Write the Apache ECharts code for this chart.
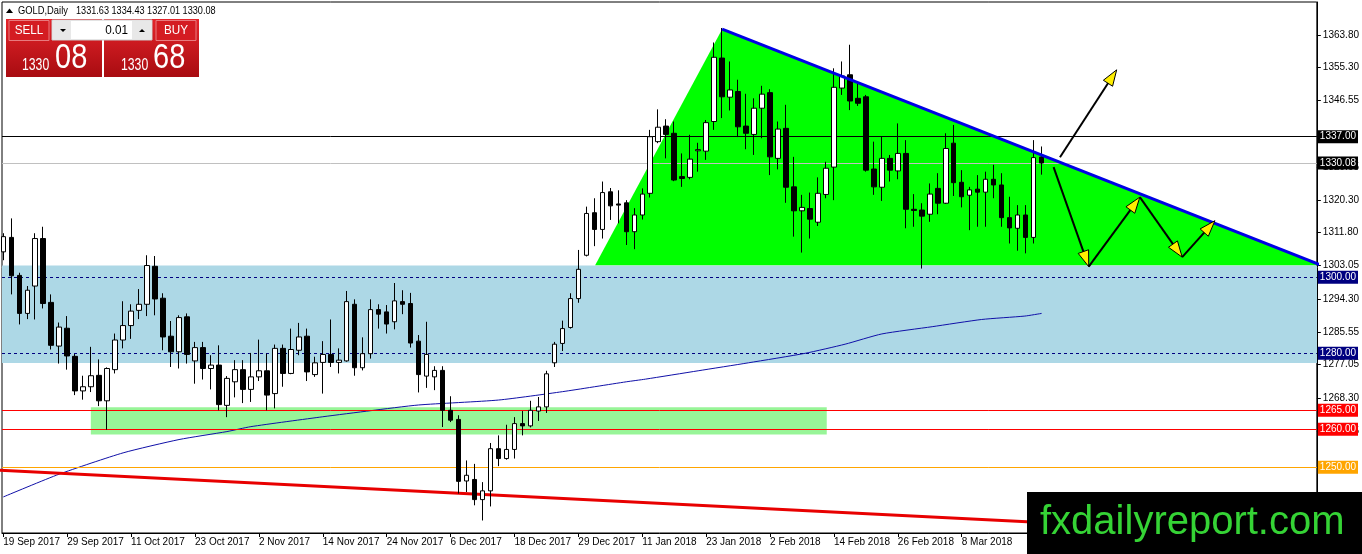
<!DOCTYPE html>
<html><head><meta charset="utf-8">
<script src="https://cdn.jsdelivr.net/npm/echarts@6/dist/echarts.min.js"></script>
<style>html,body{margin:0;padding:0;background:#fff}#c{width:1362px;height:554px}</style>
</head><body><div id="c"></div>
<script>
// ---- data ----
const dateTicks = ['19 Sep 2017','29 Sep 2017','11 Oct 2017','23 Oct 2017','2 Nov 2017','14 Nov 2017','24 Nov 2017','6 Dec 2017','18 Dec 2017','29 Dec 2017','11 Jan 2018','23 Jan 2018','2 Feb 2018','14 Feb 2018','26 Feb 2018','8 Mar 2018'];
const dateTickBars = [0,8,16,24,32,40,48,56,64,72,80,88,96,104,112,120];
const priceTicks = [1363.80,1355.30,1346.55,1329.05,1320.30,1311.80,1303.05,1294.30,1285.55,1277.05,1268.30,1259.55,1242.05];

const open = [1306.7,1310.5,1300.5,1290.5,1297.7,1310.2,1293.4,1281.9,1286.6,1279.2,
1270.1,1271.2,1274.2,1267.5,1275.7,1283.5,1287.3,1291.3,1292.9,1302.9,
1294.5,1284.5,1280.4,1289.6,1278.0,1281.5,1276.0,1276.9,1266.3,1272.5,
1275.7,1270.5,1273.8,1275.4,1269.4,1281.3,1274.7,1280.8,1284.5,1274.4,
1277.6,1279.7,1277.6,1278.0,1292.9,1276.2,1279.9,1291.5,1290.9,1288.3,
1293.6,1293.1,1283.2,1274.0,1273.8,1275.5,1265.0,1262.6,1246.4,1246.8,
1241.5,1243.8,1254.9,1252.3,1254.7,1261.5,1260.9,1264.8,1265.9,1277.5,
1282.6,1286.8,1294.4,1305.8,1317.0,1312.6,1322.5,1319.3,1319.6,1312.0,
1316.4,1322.1,1335.7,1339.8,1337.9,1326.5,1326.3,1333.3,1333.2,1341.0,
1357.7,1347.4,1348.9,1339.8,1337.6,1344.5,1348.6,1331.3,1339.2,1323.8,
1317.5,1318.1,1314.5,1321.8,1329.0,1349.8,1353.3,1347.1,1347.5,1328.5,
1323.7,1331.3,1328.0,1332.6,1317.9,1317.7,1316.6,1323.4,1319.5,1335.3,
1325.0,1321.6,1323.2,1322.4,1325.8,1324.3,1315.7,1312.9,1316.4,1310.5,
1331.63];
const close = [1310.7,1300.4,1290.5,1296.6,1310.2,1293.1,1282.1,1286.9,1279.3,1270.1,
1271.2,1274.1,1267.5,1276.0,1283.5,1287.3,1291.1,1292.9,1303.1,1294.3,
1284.3,1280.4,1289.4,1279.7,1281.5,1276.0,1276.9,1266.5,1273.4,1275.7,
1270.5,1273.8,1275.4,1269.0,1281.3,1274.7,1281.0,1284.3,1275.1,1277.5,
1279.7,1277.6,1278.2,1293.6,1276.2,1279.9,1291.5,1290.3,1287.7,1293.8,
1292.9,1282.7,1274.4,1279.7,1275.5,1265.0,1262.4,1246.3,1247.9,1241.5,
1243.8,1254.9,1252.3,1254.7,1261.5,1260.9,1265.0,1265.9,1274.6,1282.4,
1286.5,1294.4,1302.1,1316.8,1312.6,1322.3,1318.8,1319.0,1312.0,1316.4,
1321.9,1337.0,1339.5,1337.6,1325.6,1326.0,1331.1,1333.6,1340.7,1357.9,
1347.5,1349.3,1339.6,1337.9,1344.5,1348.2,1331.7,1339.0,1323.7,1317.5,
1318.4,1315.3,1322.1,1328.7,1350.0,1353.0,1346.4,1345.8,1328.2,1323.8,
1331.3,1328.2,1332.6,1317.9,1317.6,1316.1,1321.9,1319.5,1333.9,1324.9,
1321.2,1323.0,1322.4,1325.8,1324.3,1315.7,1313.0,1316.4,1310.5,1331.5,
1330.08];
const high = [1311.6,1315.5,1301.2,1297.7,1311.6,1313.3,1295.5,1288.1,1289.8,1279.8,
1274.1,1281.7,1278.4,1276.3,1285.2,1293.7,1292.9,1296.9,1305.8,1305.6,
1295.8,1288.5,1290.0,1290.5,1283.0,1283.0,1279.5,1282.1,1274.0,1278.2,
1278.2,1280.1,1283.6,1279.9,1282.3,1282.3,1286.5,1288.0,1286.5,1279.1,
1283.2,1288.9,1281.3,1296.4,1294.2,1284.2,1294.2,1292.9,1292.7,1298.5,
1296.6,1295.9,1284.8,1288.3,1276.6,1276.6,1268.7,1263.7,1251.8,1250.9,
1246.1,1256.4,1258.4,1261.2,1263.2,1264.8,1267.5,1268.5,1275.4,1283.0,
1288.6,1295.8,1307.2,1318.6,1320.8,1325.2,1323.5,1322.9,1320.3,1318.2,
1323.4,1338.8,1344.2,1341.6,1341.0,1332.6,1337.5,1335.4,1341.4,1361.8,
1365.6,1356.8,1352.0,1348.3,1347.1,1350.4,1349.5,1341.0,1345.4,1331.7,
1321.7,1322.3,1326.3,1330.4,1355.0,1356.8,1361.2,1351.1,1348.0,1335.7,
1337.0,1332.2,1340.5,1336.1,1321.9,1319.5,1324.7,1327.4,1337.9,1340.1,
1328.2,1323.8,1326.9,1327.8,1329.6,1327.4,1321.2,1319.0,1319.0,1336.1,
1334.43];
const low = [1304.5,1295.5,1287.6,1289.0,1288.9,1291.8,1281.0,1277.3,1275.7,1269.0,
1267.8,1269.8,1266.1,1259.9,1274.7,1281.3,1283.8,1289.0,1289.8,1290.0,
1280.8,1276.4,1276.0,1277.3,1272.0,1273.1,1270.5,1265.0,1263.2,1268.4,
1266.9,1267.2,1272.7,1265.0,1265.5,1271.2,1274.5,1279.5,1272.7,1273.8,
1269.4,1276.4,1274.7,1277.8,1274.1,1275.5,1278.6,1286.5,1285.2,1286.3,
1290.3,1281.5,1269.7,1270.9,1270.3,1260.6,1261.9,1243.1,1243.5,1240.0,
1236.0,1239.7,1250.3,1252.0,1252.3,1258.4,1260.5,1262.2,1264.3,1276.4,
1280.6,1286.5,1293.3,1305.5,1308.2,1310.2,1315.1,1314.2,1308.5,1307.4,
1315.2,1321.0,1335.3,1331.3,1325.3,1323.8,1325.8,1327.8,1330.9,1338.8,
1341.9,1343.9,1336.9,1333.7,1332.2,1336.6,1326.9,1328.4,1319.6,1310.7,
1306.5,1310.2,1313.5,1320.8,1320.3,1348.0,1344.0,1345.1,1327.8,1321.7,
1320.1,1325.2,1325.8,1312.9,1313.3,1302.3,1314.6,1316.6,1319.3,1321.4,
1318.4,1312.4,1313.3,1313.3,1320.8,1313.3,1308.9,1307.0,1306.3,1308.9,
1327.01];

// moving average line, read at sampled bars: [bar, price]
const maPoints = [[0,1242.2],[7,1248.2],[15,1253.8],[22,1257.3],[28,1259.4],[31,1260.7],[40,1263.3],[46,1264.9],[52,1266.4],[62,1267.7],[70,1269.9],[78,1272.5],[80.4,1273.2],[87,1275.4],[93.3,1277.5],[100.4,1280.0],[105.4,1282.4],[110,1285.1],[116.3,1287.0],[122.5,1288.9],[127.9,1289.8],[130,1290.5]];

// horizontal price levels
const levels = [1337.00, 1330.08, 1300.00, 1280.00, 1265.00, 1260.00, 1250.00];
const levelColors = ['#000000','#c0c0c0','#000080','#000080','#ff0000','#ff0000','#ffa500'];
const levelBoxes  = ['#000000','#000000','#000080','#000080','#ff0000','#ff0000','#ffa500'];
const levelDashed = [false,false,true,true,false,false,false];

// zones [bar1, price1, bar2, price2]
const blueZone = [-2, 1303.1, 170, 1277.45];
const greenZone = [10.96, 1265.8, 103.1, 1258.6];
// triangle vertices [bar, price]
const triangle = [[90,1365.3],[74.1,1303.2],[165,1303.2]];
// trend lines
const redTrend = [[-1,1249.3],[150,1233.4]];
const blueTrend = [[90,1365.3],[165,1303.2]];
// arrows [barFrom, priceFrom, barTo, priceTo]
const arrows = [[132.3,1331.6,139.4,1354.6],[131.5,1329.0,135.9,1302.8],[135.9,1302.8,142.3,1321.1],[142.3,1321.1,147.6,1305.3],[147.6,1305.3,151.7,1314.9]];

const header = {symbol:'GOLD,Daily', ohlc:[1331.63,1334.43,1327.01,1330.08]};
const bidAsk = {sellBig:'1330', sellSmall:'08', buyBig:'1330', buySmall:'68', lot:'0.01'};

// ---- chart ----
const FONT = '"Liberation Sans",Arial,sans-serif';
const chart = echarts.init(document.getElementById('c'), null, {renderer:'canvas'});
const candles = open.map((o,i)=>[i,o,close[i],low[i],high[i]]);

const markData = levels.map((v,i)=>({
  yAxis: v,
  lineStyle:{color:levelColors[i], type: levelDashed[i]?[3,3]:'solid', width:1},
  label:{backgroundColor:levelBoxes[i]}
}));

const redGrad = new echarts.graphic.LinearGradient(0,0,0,1,[{offset:0,color:'#e4242a'},{offset:1,color:'#a80c11'}]);
const txt = (x,y,text,size,fill,align,sx)=>({type:'text',z:101,x:x,y:y,scaleX:sx||1,
  style:{x:0,y:0,text:text,font:size+'px '+FONT,fill:fill,align:align||'left',verticalAlign:'top'}});

chart.setOption({
  animation:false,
  grid:{left:2,right:43,top:2,bottom:21,show:true,borderColor:'#000',borderWidth:1,backgroundColor:'#fff'},
  xAxis:{type:'value',min:-0.1625,max:164.4625,
    axisLine:{show:true,onZero:false,lineStyle:{color:'#000'}},
    axisTick:{show:true,length:4,customValues:dateTickBars,lineStyle:{color:'#000'}},
    axisLabel:{customValues:dateTickBars,formatter:(v)=>dateTicks[dateTickBars.indexOf(Math.round(v))]||'',align:'left',margin:4,color:'#000',fontSize:10,fontFamily:FONT},
    splitLine:{show:false}},
  yAxis:{type:'value',position:'right',min:1232.71,max:1372.45,
    axisLine:{show:true,onZero:false,lineStyle:{color:'#000'}},
    axisTick:{show:true,length:4,customValues:priceTicks,lineStyle:{color:'#000'}},
    axisLabel:{customValues:priceTicks,formatter:(v)=>v.toFixed(2),margin:6,color:'#000',fontSize:10,fontFamily:FONT},
    splitLine:{show:false}},
  series:[
    {type:'custom',name:'zones',z:1,clip:true,silent:true,
      data:[blueZone.concat([0]),greenZone.concat([1])],
      renderItem:(params,api)=>{
        const a=api.coord([api.value(0),api.value(1)]), b=api.coord([api.value(2),api.value(3)]);
        return {type:'rect',shape:{x:a[0],y:a[1],width:b[0]-a[0],height:b[1]-a[1]},style:{fill:api.value(4)===0?'#add8e6':'#98f598'}};
      }},
    {type:'custom',name:'triangle',z:2,clip:true,silent:true,
      data:[[triangle[0][0],triangle[0][1],triangle[1][0],triangle[1][1],triangle[2][0],triangle[2][1]]],
      renderItem:(params,api)=>{
        const pts=[0,2,4].map(k=>api.coord([api.value(k),api.value(k+1)]));
        return {type:'polygon',shape:{points:pts},style:{fill:'#00ff00'}};
      }},
    {type:'line',name:'MA',z:3,data:maPoints,showSymbol:false,smooth:0.2,lineStyle:{color:'#1010a8',width:1},silent:true,
      markLine:{silent:true,symbol:['none','none'],animation:false,
        label:{show:true,position:'end',distance:1,color:'#fff',fontSize:10,fontFamily:FONT,padding:[2,2,1,2],formatter:(p)=>Number(p.value).toFixed(2)},
        data:markData}},
    {type:'line',name:'redTrend',z:3,data:redTrend,showSymbol:false,lineStyle:{color:'#e80000',width:3},silent:true},
    {type:'candlestick',name:'GOLD',z:5,data:candles,barWidth:5,silent:true,
      itemStyle:{color:'#ffffff',color0:'#000000',borderColor:'#000000',borderColor0:'#000000',borderWidth:1}},
    {type:'line',name:'blueTrend',z:6,data:blueTrend,showSymbol:false,lineStyle:{color:'#0000e6',width:3},silent:true},
    {type:'custom',name:'arrows',z:7,clip:false,silent:true,data:arrows,
      renderItem:(params,api)=>{
        const a=api.coord([api.value(0),api.value(1)]), b=api.coord([api.value(2),api.value(3)]);
        const dx=b[0]-a[0], dy=b[1]-a[1], len=Math.hypot(dx,dy), ux=dx/len, uy=dy/len;
        const L=16, W=5.5;
        const base=[b[0]-ux*L,b[1]-uy*L];
        const p1=[base[0]-uy*W,base[1]+ux*W], p2=[base[0]+uy*W,base[1]-ux*W];
        return {type:'group',children:[
          {type:'line',shape:{x1:a[0],y1:a[1],x2:b[0]-ux*4,y2:b[1]-uy*4},style:{stroke:'#000',lineWidth:2}},
          {type:'polygon',shape:{points:[b,p1,p2]},style:{fill:'#ffee00',stroke:'#000',lineWidth:1}}
        ]};
      }}
  ],
  graphic:[
    // header
    {type:'polygon',z:101,shape:{points:[[6,13],[9.5,8.5],[13,13]]},style:{fill:'#000'}},
    txt(18,5,header.symbol,11,'#000','left',0.85),
    txt(76,5,header.ohlc.map(v=>v.toFixed(2)).join(' '),11,'#000','left',0.83),
    // one-click panel
    {type:'rect',z:100,shape:{x:6,y:19,width:96,height:58},style:{fill:redGrad}},
    {type:'rect',z:100,shape:{x:104,y:19,width:95,height:58},style:{fill:redGrad}},
    {type:'rect',z:100,shape:{x:9,y:20.5,width:40,height:20},style:{fill:'#d41c22',stroke:'#e87a7e',lineWidth:1}},
    {type:'rect',z:100,shape:{x:156,y:20.5,width:40,height:20},style:{fill:'#d41c22',stroke:'#e87a7e',lineWidth:1}},
    {type:'rect',z:100,shape:{x:52,y:20,width:100,height:20},style:{fill:'#ffffff',stroke:'#c8c8c8',lineWidth:1}},
    {type:'rect',z:100,shape:{x:53,y:21,width:18,height:18},style:{fill:'#e8e8e8'}},
    {type:'rect',z:100,shape:{x:132,y:21,width:19,height:18},style:{fill:'#e8e8e8'}},
    {type:'polygon',z:101,shape:{points:[[60,29],[66,29],[63,32]]},style:{fill:'#000'}},
    {type:'polygon',z:101,shape:{points:[[139,32],[145,32],[142,29]]},style:{fill:'#000'}},
    txt(128,24,bidAsk.lot,13,'#000','right',0.9),
    txt(29,24,'SELL',13,'#fff','center',0.9),
    txt(176,24,'BUY',13,'#fff','center',0.9),
    txt(22,57,bidAsk.sellBig,17,'#fff','left',0.72),
    txt(55,41,bidAsk.sellSmall,35,'#fff','left',0.83),
    txt(121,57,bidAsk.buyBig,17,'#fff','left',0.72),
    txt(153,41,bidAsk.buySmall,35,'#fff','left',0.83),
    // watermark box
    {type:'rect',z:100,shape:{x:1027,y:492,width:335,height:62},style:{fill:'#000'}},
    {type:'text',z:101,style:{x:1040,y:523,text:'fxdailyreport.com',font:'40px "Liberation Sans",Arial,sans-serif',fill:'#35d335',verticalAlign:'middle'}}
  ]
});
</script></body></html>
